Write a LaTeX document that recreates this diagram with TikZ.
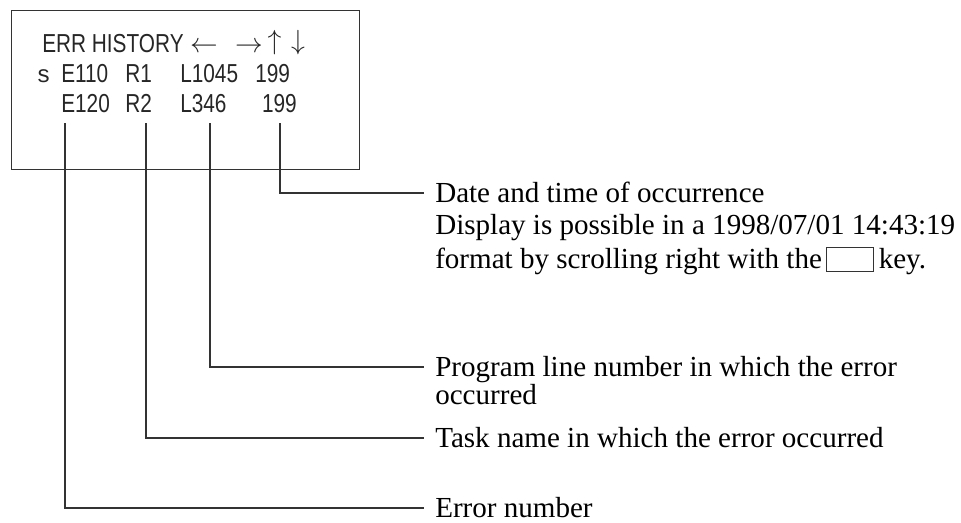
\documentclass[tikz,border=0pt]{standalone}
\usepackage{fontspec}
\setmainfont{Liberation Serif}
\newfontfamily\lcdfont[FakeStretch=0.8]{Liberation Sans}
\newfontfamily\lcdmono{Liberation Mono}
\begin{document}
\begin{tikzpicture}[x=0.75pt,y=-0.75pt,
  lcd/.style={font=\lcdfont\fontsize{19.5}{22}\selectfont, inner sep=0pt, anchor=base west, text=black!85},
  arr/.style={font=\fontsize{20}{22}\selectfont, inner sep=0pt, anchor=base, text=black!85},
  lab/.style={font=\fontsize{21.8}{26}\selectfont, inner xsep=8.25pt, inner ysep=0pt, text height=16.5pt, text depth=3pt, anchor=west},
  labcont/.style={font=\fontsize{21.8}{26}\selectfont, inner sep=0pt, anchor=base west},
  conn/.style={draw=black!80, line width=0.8pt},
  keybox/.style={draw=black!80, line width=0.7pt, minimum width=35pt, minimum height=18pt, inner sep=0pt, anchor=south west}
]
\useasboundingbox (0,0) rectangle (961,522);
% screen
\node[draw=black!80, line width=0.8pt, minimum width=261pt, minimum height=119.25pt, inner sep=0pt, anchor=north west] (screen) at (11,10) {};
% row 1
\node[lcd] (title) at (42,52) {ERR HISTORY};
\node[arr] (al) at (204,52) {$\leftarrow$};
\node[arr] (ar) at (249,52) {$\rightarrow$};
\node[arr] (au) at (274.5,49) {$\uparrow$};
\node[arr] (ad) at (298,49) {$\downarrow$};
% row 2
\node[lcd, font=\lcdmono\fontsize{18}{20}\selectfont] (s) at (36,82) {s};
\node[lcd] (e1) at (61,82) {E110};
\node[lcd] (r1) at (125,82) {R1};
\node[lcd] (l1) at (180,82) {L1045};
\node[lcd] (d1) at (255,82) {199};
% row 3
\node[lcd] (e2) at (61,112) {E120};
\node[lcd] (r2) at (125,112) {R2};
\node[lcd] (l2) at (180,112) {L346};
\node[lcd, anchor=base east] (d2) at (297,112) {199};
% connector starts
\coordinate (cE) at (65,123);
\coordinate (cR) at (146,123);
\coordinate (cL) at (210,123);
\coordinate (cD) at (280,123);
% labels
\node[lab] (labD) at (424,193) {Date and time of occurrence};
\node[labcont] (disp) at (435,234) {Display is possible in a 1998/07/01 14:43:19};
\node[labcont] (fmt) at (435,268) {format by scrolling right with the};
\node[keybox] (key) at ([xshift=3pt,yshift=-3pt]fmt.base east) {};
\node[labcont] (keyt) at ([xshift=3.5pt]key.east |- fmt.base) {key.};
\node[lab] (labL) at (424,367) {Program line number in which the error};
\node[labcont] (occ) at (435,404) {occurred};
\node[lab] (labR) at (424,438) {Task name in which the error occurred};
\node[lab] (labE) at (424,508) {Error number};
% connectors
\draw[conn] (cD) |- (labD.west);
\draw[conn] (cL) |- (labL.west);
\draw[conn] (cR) |- (labR.west);
\draw[conn] (cE) |- (labE.west);
\end{tikzpicture}
\end{document}
